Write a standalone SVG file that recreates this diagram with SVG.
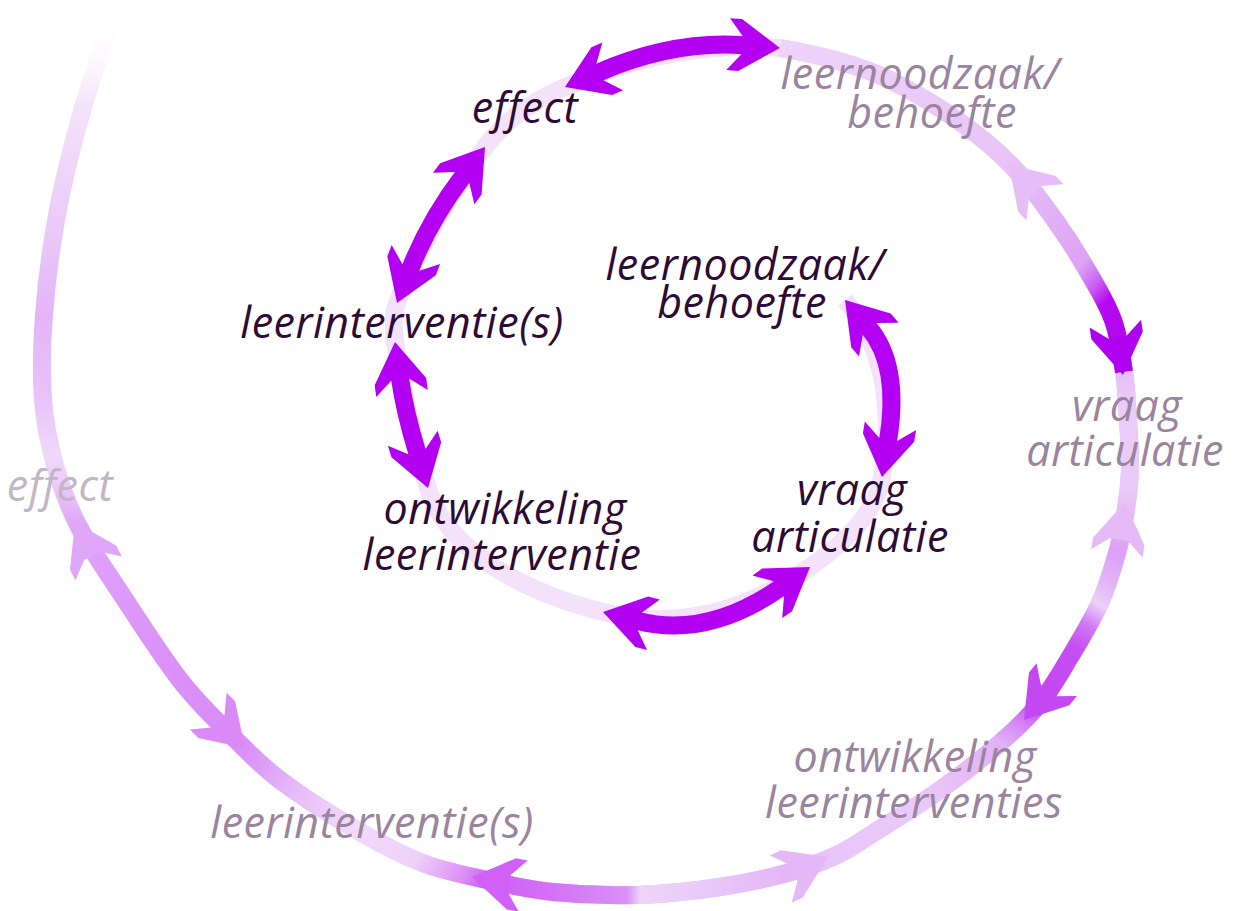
<svg xmlns="http://www.w3.org/2000/svg" xmlns:xlink="http://www.w3.org/1999/xlink" width="1233" height="911" viewBox="0 0 1233 911">
<style>
.lbl{font-family:"Open Sans","Noto Sans",sans-serif;font-style:italic;font-size:43px;letter-spacing:0.5px;text-anchor:middle}
.in{fill:#2E0B36}
.out{fill:#9A84A0}
.faint{fill:#C0B6C4}
.band{fill:none;stroke-width:18;stroke-linecap:butt;stroke-linejoin:round}
.shaft{fill:none;stroke:#B300F2;stroke-width:18;stroke-linecap:butt}
.dark{fill:#B300F2}
</style>
<defs>
<path id="head" d="M0,0 L-40,-26 L-52,-26 L-38,-9 L-38,9 L-52,26 L-40,26 Z"/>
<linearGradient id="g1" gradientUnits="userSpaceOnUse" x1="780" y1="48" x2="1124" y2="372">
<stop offset="0" stop-color="#EED4F9"/><stop offset="0.5" stop-color="#E8C4F8"/><stop offset="0.78" stop-color="#DDA2F6"/><stop offset="0.83" stop-color="#C95EF3"/><stop offset="0.87" stop-color="#B50AF1"/><stop offset="1" stop-color="#B000F0"/>
</linearGradient>
<linearGradient id="g2" gradientUnits="userSpaceOnUse" x1="1124" y1="372" x2="1117" y2="553">
<stop offset="0" stop-color="#E6BEF7"/><stop offset="0.2" stop-color="#ECCDF8"/><stop offset="0.65" stop-color="#EACAF8"/><stop offset="0.85" stop-color="#E2B2F7"/><stop offset="1" stop-color="#DCA0F6"/>
</linearGradient>
<linearGradient id="g3" gradientUnits="userSpaceOnUse" x1="1117" y1="553" x2="1000" y2="743">
<stop offset="0" stop-color="#DCA0F6"/><stop offset="0.15" stop-color="#E4B8F7"/><stop offset="0.24" stop-color="#ECD0F9"/><stop offset="0.34" stop-color="#D27AF5"/><stop offset="0.45" stop-color="#C550F3"/><stop offset="0.75" stop-color="#C244F2"/><stop offset="0.9" stop-color="#D98EF5"/><stop offset="1" stop-color="#E2B0F7"/>
</linearGradient>
<linearGradient id="g4" gradientUnits="userSpaceOnUse" x1="1000" y1="743" x2="787" y2="873">
<stop offset="0" stop-color="#E2B0F7"/><stop offset="0.4" stop-color="#EACAF8"/><stop offset="0.8" stop-color="#E8C6F8"/><stop offset="1" stop-color="#E3B6F7"/>
</linearGradient>
<linearGradient id="g5" gradientUnits="userSpaceOnUse" x1="787" y1="873" x2="487" y2="880">
<stop offset="0" stop-color="#E3B6F7"/><stop offset="0.3" stop-color="#EACBF8"/><stop offset="0.49" stop-color="#EED4F9"/><stop offset="0.535" stop-color="#DA90F6"/><stop offset="0.8" stop-color="#D370F6"/><stop offset="1" stop-color="#CF5EF6"/>
</linearGradient>
<linearGradient id="g6" gradientUnits="userSpaceOnUse" x1="487" y1="880" x2="233" y2="737">
<stop offset="0" stop-color="#CF5EF6"/><stop offset="0.08" stop-color="#DC90F7"/><stop offset="0.25" stop-color="#EED2F9"/><stop offset="0.5" stop-color="#F1DAFA"/><stop offset="0.72" stop-color="#E6BCF8"/><stop offset="0.9" stop-color="#DC96F7"/><stop offset="1" stop-color="#D98AF7"/>
</linearGradient>
<linearGradient id="g7" gradientUnits="userSpaceOnUse" x1="233" y1="737" x2="78" y2="525">
<stop offset="0" stop-color="#D98AF7"/><stop offset="0.5" stop-color="#DC94F8"/><stop offset="1" stop-color="#E0A4F8"/>
</linearGradient>
<linearGradient id="g8" gradientUnits="userSpaceOnUse" x1="78" y1="525" x2="112" y2="15">
<stop offset="0" stop-color="#E0A4F8"/><stop offset="0.08" stop-color="#ECCDF9"/><stop offset="0.13" stop-color="#F0D8FA"/><stop offset="0.25" stop-color="#E8C2F9"/><stop offset="0.4" stop-color="#E4B4F8"/><stop offset="0.6" stop-color="#ECCCF9"/><stop offset="0.82" stop-color="#F4E2FB"/><stop offset="1" stop-color="#FFFFFF" stop-opacity="0"/>
</linearGradient>
</defs>
<rect width="1233" height="911" fill="#FFFFFF"/>
<g id="connectors">
<path class="band" stroke="#F3E2FA" d="M845,300 Q900.6,365 882,477 C875.8,514.5 841.2,545.3 810,567 Q707.5,638.5 603,612 C533.7,594.4 448.9,556.4 428,488 Q404.5,411 395,342 C393.2,329.1 392.3,315.1 397,303 Q429,221 485,147 C504.9,120.7 534.7,100.1 565,87 Q673.5,40 780,48"/>
<path class="band" stroke="#E4B8F7" d="M780,48 C798.3,51.2 816.7,54.7 835,60 C853.3,65.3 869.2,69.7 890,80 C910.8,90.3 939.5,107.5 960,122 C980.5,136.5 996.8,150.2 1013,167 C1029.2,183.8 1044.2,205 1057,223 C1069.8,241 1080.7,258.8 1090,275 C1099.3,291.2 1107.3,303.8 1113,320 C1118.7,336.2 1121.5,355.3 1124,372 C1126.5,388.7 1127,403.7 1128,420 C1129,436.3 1130.5,454.2 1130,470 C1129.5,485.8 1127.2,501.2 1125,515 C1122.8,528.8 1121.2,538.3 1117,553 C1112.8,567.7 1107.8,585.7 1100,603 C1092.2,620.3 1080,640.3 1070,657 C1060,673.7 1051.7,688.7 1040,703 C1028.3,717.3 1016.7,728.5 1000,743 C983.3,757.5 960.8,775.2 940,790 C919.2,804.8 892.2,821.2 875,832 C857.8,842.8 851.7,848.2 837,855 C822.3,861.8 806.5,867.7 787,873 C767.5,878.3 745,883.3 720,887 C695,890.7 664.8,894.2 637,895 C609.2,895.8 578,894.5 553,892 C528,889.5 509.2,885 487,880 C464.8,875 442.8,871 420,862 C397.2,853 373.3,839.7 350,826 C326.7,812.3 299.5,794.8 280,780 C260.5,765.2 249.7,753.7 233,737 C216.3,720.3 198.8,704.2 180,680 C161.2,655.8 137,617.8 120,592 C103,566.2 88.8,546.2 78,525"/>
<path class="band" stroke="url(#g1)" d="M780,48 C798.3,51.2 816.7,54.7 835,60 C853.3,65.3 869.2,69.7 890,80 C910.8,90.3 939.5,107.5 960,122 C980.5,136.5 996.8,150.2 1013,167 C1029.2,183.8 1044.2,205 1057,223 C1069.8,241 1080.7,258.8 1090,275 C1099.3,291.2 1107.3,303.8 1113,320 C1118.7,336.2 1121.5,355.3 1124,372"/>
<path class="band" stroke="url(#g2)" d="M1124,372 C1126.5,388.7 1127,403.7 1128,420 C1129,436.3 1130.5,454.2 1130,470 C1129.5,485.8 1127.2,501.2 1125,515 C1122.8,528.8 1121.2,538.3 1117,553"/>
<path class="band" stroke="url(#g3)" d="M1117,553 C1112.8,567.7 1107.8,585.7 1100,603 C1092.2,620.3 1080,640.3 1070,657 C1060,673.7 1051.7,688.7 1040,703 C1028.3,717.3 1016.7,728.5 1000,743"/>
<path class="band" stroke="url(#g4)" d="M1000,743 C983.3,757.5 960.8,775.2 940,790 C919.2,804.8 892.2,821.2 875,832 C857.8,842.8 851.7,848.2 837,855 C822.3,861.8 806.5,867.7 787,873"/>
<path class="band" stroke="url(#g5)" d="M787,873 C767.5,878.3 745,883.3 720,887 C695,890.7 664.8,894.2 637,895 C609.2,895.8 578,894.5 553,892 C528,889.5 509.2,885 487,880"/>
<path class="band" stroke="url(#g6)" d="M487,880 C464.8,875 442.8,871 420,862 C397.2,853 373.3,839.7 350,826 C326.7,812.3 299.5,794.8 280,780 C260.5,765.2 249.7,753.7 233,737"/>
<path class="band" stroke="url(#g7)" d="M233,737 C216.3,720.3 198.8,704.2 180,680 C161.2,655.8 137,617.8 120,592 C103,566.2 88.8,546.2 78,525"/>
<path class="band" stroke="url(#g8)" d="M78,525 C67.2,503.8 60.8,485.8 55,465 C49.2,444.2 44.8,425 43,400 C41.2,375 41.7,345.8 44,315 C46.3,284.2 51,247.8 57,215 C63,182.2 70.8,151.3 80,118 C89.2,84.7 102,49 112,15"/>
<use href="#head" fill="#E6BEF7" transform="translate(1009,165) rotate(226)"/>
<use href="#head" fill="#B000F0" transform="translate(1123,375) rotate(81.5)"/>
<use href="#head" fill="#E4BAF7" transform="translate(1125,502) rotate(-81)"/>
<use href="#head" fill="#C448F2" transform="translate(1024,720) rotate(129)"/>
<use href="#head" fill="#E4B8F7" transform="translate(828,857) rotate(-25)"/>
<use href="#head" fill="#D060F6" transform="translate(472,877) rotate(190)"/>
<use href="#head" fill="#D98AF7" transform="translate(245,748) rotate(45)"/>
<use href="#head" fill="#E0A6F8" transform="translate(75,522) rotate(243)"/>
<path class="shaft" d="M598,72.7 Q673.5,40 744.1,45.3"/>
<use href="#head" class="dark" transform="translate(565,87) rotate(156.6)"/>
<use href="#head" class="dark" transform="translate(780,48) rotate(4.3)"/>
<path class="shaft" d="M463.3,175.7 Q429,221 410.1,269.4"/>
<use href="#head" class="dark" transform="translate(485,147) rotate(-52.9)"/>
<use href="#head" class="dark" transform="translate(397,303) rotate(111.3)"/>
<path class="shaft" d="M399.9,377.7 Q404.5,411 417.5,453.5"/>
<use href="#head" class="dark" transform="translate(395,342) rotate(262.2)"/>
<use href="#head" class="dark" transform="translate(428,488) rotate(73)"/>
<path class="shaft" d="M637.9,620.9 Q707.5,638.5 780.5,587.6"/>
<use href="#head" class="dark" transform="translate(603,612) rotate(194.2)"/>
<use href="#head" class="dark" transform="translate(810,567) rotate(-34.9)"/>
<path class="shaft" d="M868.4,327.4 Q900.6,365 887.9,441.5"/>
<use href="#head" class="dark" transform="translate(845,300) rotate(229.5)"/>
<use href="#head" class="dark" transform="translate(882,477) rotate(99.4)"/>
</g>
<g id="node-inner-effect"><text class="lbl in" x="525" y="123">effect</text></g>
<g id="node-inner-leerinterventies"><text class="lbl in" x="402" y="338">leerinterventie(s)</text></g>
<g id="node-inner-leernoodzaak"><text class="lbl in" x="745" y="280">leernoodzaak/</text><text class="lbl in" x="742" y="318">behoefte</text></g>
<g id="node-inner-ontwikkeling"><text class="lbl in" x="505" y="524">ontwikkeling</text><text class="lbl in" x="502" y="570">leerinterventie</text></g>
<g id="node-inner-vraag"><text class="lbl in" x="852" y="505">vraag</text><text class="lbl in" x="850" y="552">articulatie</text></g>
<g id="node-outer-leernoodzaak"><text class="lbl out" x="920" y="89">leernoodzaak/</text><text class="lbl out" x="932" y="128">behoefte</text></g>
<g id="node-outer-vraag"><text class="lbl out" x="1127" y="421">vraag</text><text class="lbl out" x="1125" y="466">articulatie</text></g>
<g id="node-outer-ontwikkeling"><text class="lbl out" x="915" y="772">ontwikkeling</text><text class="lbl out" x="914" y="818">leerinterventies</text></g>
<g id="node-outer-leerinterventies"><text class="lbl out" x="372" y="838">leerinterventie(s)</text></g>
<g id="node-outer-effect"><text class="lbl faint" x="60" y="501">effect</text></g>
</svg>
